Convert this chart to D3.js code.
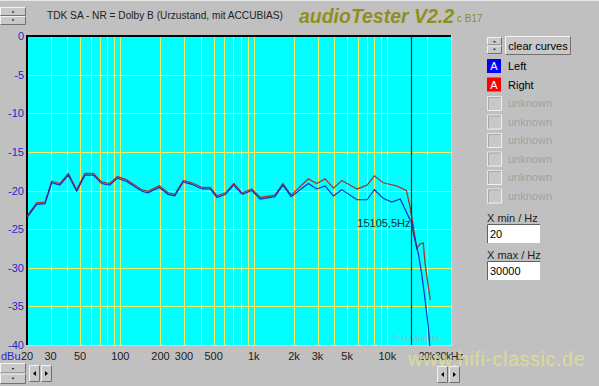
<!DOCTYPE html>
<html>
<head>
<meta charset="utf-8">
<script src="https://cdn.jsdelivr.net/npm/d3@7"></script>
<style>
  body { margin: 0; background: #c0c0c0; overflow: hidden; }
  svg { display: block; }
  text { font-family: "Liberation Sans", Arial, sans-serif; }
</style>
</head>
<body>
<div id="chart"></div>
<script>
// Données ******************************************************************
const freqLeft = [20, 23.6, 27.3, 30.6, 35.3, 40.8, 47.1, 54.4, 62.9, 72.5, 83.2, 95.3, 111, 145, 161, 196, 228, 256, 296, 343, 409, 471, 530, 613, 708, 818, 966, 1115, 1438, 1652, 1905, 2560, 2960, 3420, 3950, 4560, 5930, 7050, 8000, 9300, 10800, 12500, 14800, 15200, 15700, 17100, 18100, 19200, 20300, 20900];
const dbLeft = [-23.5, -21.8, -21.7, -19.0, -19.3, -18.0, -20.1, -18.0, -18.0, -19.1, -19.3, -18.4, -18.8, -20.1, -20.3, -19.6, -20.5, -20.7, -18.9, -19.2, -19.8, -19.8, -20.9, -20.5, -19.3, -20.5, -20.0, -21.1, -20.8, -19.3, -20.8, -19.1, -19.8, -19.4, -20.7, -19.9, -21.2, -21.2, -19.9, -21.0, -21.5, -21.1, -23.8, -24.0, -25.6, -28.2, -30.8, -34.2, -37.7, -40.5];

const freqRight = [20, 23.6, 27.3, 30.6, 35.3, 40.8, 47.1, 54.4, 62.9, 72.5, 83.2, 95.3, 111, 145, 161, 196, 228, 256, 296, 343, 409, 471, 530, 613, 708, 818, 966, 1115, 1438, 1652, 1905, 2560, 2960, 3420, 3950, 4560, 5930, 7050, 8000, 9300, 11700, 13900, 14800, 15100, 15700, 16600, 17600, 18600, 19200, 20300, 21000];
const dbRight = [-23.3, -21.6, -21.5, -18.8, -19.1, -17.8, -19.9, -17.8, -17.8, -18.9, -19.1, -18.2, -18.6, -19.9, -20.1, -19.4, -20.3, -20.5, -18.7, -19.0, -19.6, -19.6, -20.7, -20.3, -19.1, -20.3, -19.8, -20.9, -20.6, -19.1, -20.6, -18.5, -19.1, -18.5, -19.7, -18.7, -19.8, -19.3, -18.1, -19.0, -19.4, -20.0, -22.1, -23.0, -24.7, -27.5, -26.9, -26.8, -29.5, -32.5, -34.2];

const yTicks = [0, -5, -10, -15, -20, -25, -30, -35, -40];
const xTickValues = [20, 30, 50, 100, 200, 300, 500, 1000, 2000, 3000, 5000, 10000, 20000, 30000];
const xTickLabels = ["20", "30", "50", "100", "200", "300", "500", "1k", "2k", "3k", "5k", "10k", "20k", "30kHz"];
const legendNames = ["Left", "Right", "unknown", "unknown", "unknown", "unknown", "unknown", "unknown"];
const legendColors = ["#0000ff", "#ff0000", null, null, null, null, null, null];
const cursorFreq = 15105.5;
const cursorLabel = "15105,5Hz";
const title = "TDK SA - NR = Dolby B (Urzustand, mit ACCUBIAS)";

// Dimensions ***************************************************************
const W = 599, H = 386;
const plot = { left: 27, top: 36, right: 451, bottom: 345 };

const x = d3.scaleLog().domain([20, 30000]).range([plot.left, plot.right]);
const y = d3.scaleLinear().domain([-40, 0]).range([plot.bottom, plot.top]);

const svg = d3.select("#chart").append("svg")
    .attr("width", W)
    .attr("height", H);

svg.append("rect").attr("width", W).attr("height", H).attr("fill", "#c0c0c0");
svg.append("line").attr("x1", 0).attr("x2", W).attr("y1", 0.5).attr("y2", 0.5).attr("stroke", "#e8e8e8");

// petits boutons façon Windows
function button(g, x0, y0, w, h) {
    g.append("rect").attr("x", x0).attr("y", y0).attr("width", w).attr("height", h)
        .attr("fill", "#c8c8c8");
    g.append("path").attr("d", `M${x0 + 0.5},${y0 + h - 0.5}V${y0 + 0.5}H${x0 + w - 0.5}`)
        .attr("fill", "none").attr("stroke", "#f4f4f4");
    g.append("path").attr("d", `M${x0 + 0.5},${y0 + h - 0.5}H${x0 + w - 0.5}V${y0 + 0.5}`)
        .attr("fill", "none").attr("stroke", "#707070");
}
function spin(g, x0, y0, w, h) {
    button(g, x0, y0, w, h / 2);
    button(g, x0, y0 + h / 2, w, h / 2);
    g.append("path").attr("d", `M${x0 + w / 2 - 1.5},${y0 + h / 4 + 1}h3l-1.5,-1.5z`).attr("fill", "#000");
    g.append("path").attr("d", `M${x0 + w / 2 - 1.5},${y0 + 3 * h / 4 - 1}h3l-1.5,1.5z`).attr("fill", "#000");
}
function arrows(g, x0, y0) {
    button(g, x0, y0, 11, 17);
    button(g, x0 + 12, y0, 11, 17);
    g.append("path").attr("d", `M${x0 + 7},${y0 + 6}v5l-3,-2.5z`).attr("fill", "#000");
    g.append("path").attr("d", `M${x0 + 16},${y0 + 6}v5l3,-2.5z`).attr("fill", "#000");
}

const ui = svg.append("g");
spin(ui, 0, 7, 26, 18);
spin(ui, 0, 363, 26, 21);
arrows(ui, 29, 365);
arrows(ui, 437, 366);

// Titre
svg.append("text").attr("x", 47).attr("y", 19).attr("font-size", 11).attr("fill", "#222")
    .attr("textLength", 236).attr("lengthAdjust", "spacingAndGlyphs")
    .text(title);
svg.append("text").attr("x", 299).attr("y", 23).attr("font-size", 20)
    .attr("font-style", "italic").attr("font-weight", "bold").attr("fill", "#8f8f1c")
    .attr("textLength", 155).attr("lengthAdjust", "spacingAndGlyphs")
    .text("audioTester V2.2");
svg.append("text").attr("x", 457).attr("y", 22).attr("font-size", 10).attr("fill", "#8f8f1c")
    .text("c B17");

// Zone du graphique
svg.append("rect")
    .attr("x", plot.left).attr("y", plot.top)
    .attr("width", plot.right - plot.left).attr("height", plot.bottom - plot.top)
    .attr("fill", "#00ffff");

// grille log : 1..9 par décade
const gridFreqs = [];
[10, 100, 1000, 10000].forEach(dec => {
    for (let k = 1; k <= 9; k++) {
        const f = k * dec;
        if (f > 20 && f <= 30000) gridFreqs.push(f);
    }
});
svg.append("g").selectAll("line").data(gridFreqs).enter().append("line")
    .attr("x1", d => Math.round(x(d)) + 0.5).attr("x2", d => Math.round(x(d)) + 0.5)
    .attr("y1", plot.top).attr("y2", plot.bottom)
    .attr("stroke", "#eef060").attr("stroke-width", 1);
svg.append("g").selectAll("line").data(yTicks.filter(d => d > -40 && d < 0)).enter().append("line")
    .attr("x1", plot.left).attr("x2", plot.right)
    .attr("y1", d => Math.round(y(d)) + 0.5).attr("y2", d => Math.round(y(d)) + 0.5)
    .attr("stroke", "#eef060").attr("stroke-width", 1);

// bord enfoncé
svg.append("path")
    .attr("d", `M${plot.left},${plot.bottom}V${plot.top}H${plot.right}`)
    .attr("fill", "none").attr("stroke", "#000").attr("stroke-width", 2);
svg.append("path")
    .attr("d", `M${plot.left},${plot.bottom + 0.5}H${plot.right + 0.5}V${plot.top}`)
    .attr("fill", "none").attr("stroke", "#e8f070").attr("stroke-width", 1);

// copyright dans le graphique
svg.append("text").attr("x", 392).attr("y", 341).attr("font-size", 9)
    .attr("fill", "#70c8d0").text("© U.Mueller");

// Courbes
svg.append("clipPath").attr("id", "clip").append("rect")
    .attr("x", plot.left).attr("y", plot.top)
    .attr("width", plot.right - plot.left).attr("height", plot.bottom - plot.top + 1);

const line = d3.line().x(d => x(d[0])).y(d => y(d[1]));
const curves = svg.append("g").attr("clip-path", "url(#clip)");
curves.append("path")
    .datum(d3.zip(freqRight, dbRight))
    .attr("d", line).attr("fill", "none")
    .attr("stroke", "#a03a2a").attr("stroke-width", 1.3);
curves.append("path")
    .datum(d3.zip(freqLeft, dbLeft))
    .attr("d", line).attr("fill", "none")
    .attr("stroke", "#1515c8").attr("stroke-width", 1.2).attr("stroke-opacity", 0.9);

// Curseur
const cx = Math.round(x(cursorFreq)) + 0.5;
svg.append("line").attr("x1", cx).attr("x2", cx).attr("y1", plot.top).attr("y2", plot.bottom)
    .attr("stroke", "#103838").attr("stroke-width", 1.2);
svg.append("text").attr("x", cx - 1).attr("y", 227).attr("text-anchor", "end")
    .attr("font-size", 11).attr("fill", "#103040").text(cursorLabel);

// Axe Y
svg.append("g").selectAll("text").data(yTicks).enter().append("text")
    .attr("x", 24).attr("y", d => y(d) + 4)
    .attr("text-anchor", "end").attr("font-size", 11).attr("fill", "#2828c8")
    .text(d => d);
svg.append("text").attr("x", 1).attr("y", 360).attr("font-size", 11).attr("fill", "#2828c8").text("dBu");

// Axe X
const last = xTickValues.length - 1;
svg.append("g").selectAll("text").data(xTickValues).enter().append("text")
    .attr("x", (d, i) => i === last ? x(d) - 16 : (i === last - 1 ? x(d) - 1 : x(d)))
    .attr("y", 360)
    .attr("text-anchor", (d, i) => i === last ? "start" : "middle")
    .attr("font-size", (d, i) => i >= last - 1 ? 10.5 : 11)
    .attr("letter-spacing", (d, i) => i >= last - 1 ? -0.4 : 0)
    .attr("fill", "#202020")
    .text((d, i) => xTickLabels[i]);

// Panneau de droite
spin(ui, 487, 37, 15, 17);
button(ui, 505, 36, 66, 19);
svg.append("text").attr("x", 538).attr("y", 50).attr("text-anchor", "middle")
    .attr("font-size", 11).attr("fill", "#000").text("clear curves");

const legend = svg.append("g").selectAll("g").data(legendNames).enter().append("g")
    .attr("transform", (d, i) => `translate(487, ${59 + i * 18.5})`);
legend.each(function (d, i) {
    const g = d3.select(this);
    if (legendColors[i]) {
        g.append("rect").attr("width", 14).attr("height", 14).attr("fill", legendColors[i]);
        g.append("text").attr("x", 7).attr("y", 11).attr("text-anchor", "middle")
            .attr("font-size", 11).attr("fill", "#fff").text("A");
    } else {
        g.append("rect").attr("width", 15).attr("height", 15).attr("fill", "#c8c8c8");
        g.append("path").attr("d", "M0.5,15V0.5H15").attr("fill", "none").attr("stroke", "#e8e8e8");
        g.append("path").attr("d", "M0.5,14.5H14.5V0.5").attr("fill", "none").attr("stroke", "#f0f0f0");
        g.append("path").attr("d", "M1.5,14V1.5H14").attr("fill", "none").attr("stroke", "#a8a8a8");
    }
    g.append("text").attr("x", 21).attr("y", 11).attr("font-size", 11)
        .attr("fill", legendColors[i] ? "#000" : "#a0a0a0").text(d);
});

// X min / X max
[["X min / Hz", "20", 213], ["X max / Hz", "30000", 250]].forEach(([lab, val, y0]) => {
    svg.append("text").attr("x", 487).attr("y", y0 + 9).attr("font-size", 11).attr("fill", "#202020").text(lab);
    svg.append("rect").attr("x", 487).attr("y", y0 + 11).attr("width", 53).attr("height", 19).attr("fill", "#fff");
    svg.append("path").attr("d", `M487.5,${y0 + 30}V${y0 + 11.5}H540`).attr("fill", "none").attr("stroke", "#606060");
    svg.append("text").attr("x", 490).attr("y", y0 + 25).attr("font-size", 11).attr("fill", "#000").text(val);
});

// filigrane
svg.append("text").attr("x", 408).attr("y", 366).attr("font-size", 20)
    .attr("fill", "#e4e48a").attr("fill-opacity", 0.75).attr("letter-spacing", 0.5)
    .text("www.hifi-classic.de");
</script>
</body>
</html>
